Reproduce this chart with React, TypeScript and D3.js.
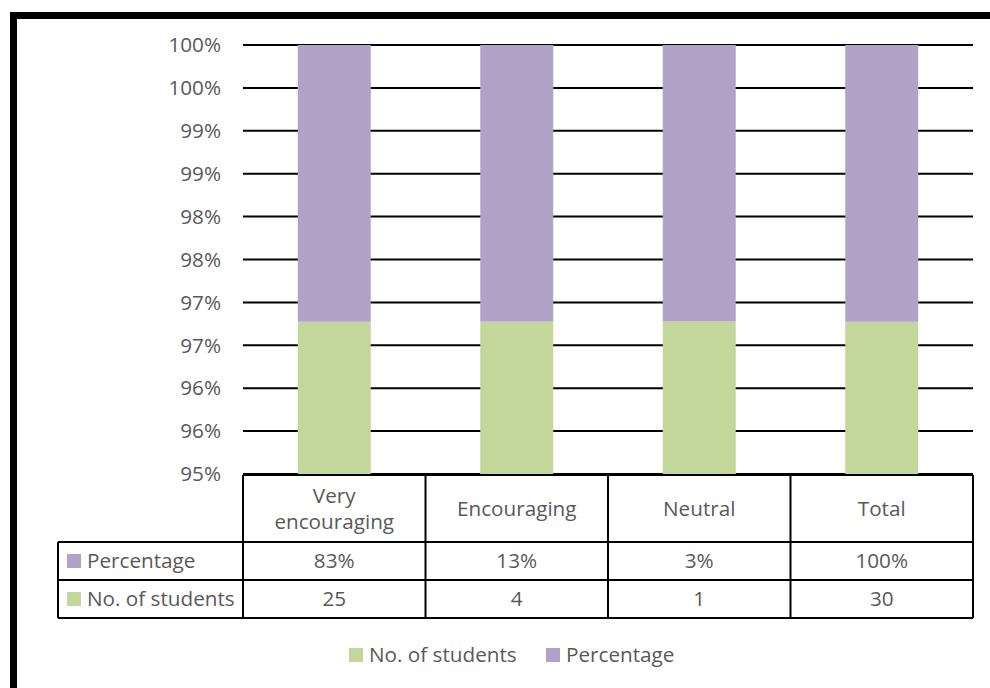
import React from 'react'
import * as d3 from 'd3'

const categories = ['Very encouraging', 'Encouraging', 'Neutral', 'Total']
const students = [25, 4, 1, 30]
const percentage = [0.8333, 0.1333, 0.0333, 1.0]
const percentLabels = ['83%', '13%', '3%', '100%']
const yTicks = [0.95, 0.955, 0.96, 0.965, 0.97, 0.975, 0.98, 0.985, 0.99, 0.995, 1.0]
const yTickLabels = ['95%', '96%', '96%', '97%', '97%', '98%', '98%', '99%', '99%', '100%', '100%']

const GREEN = '#C4D79B'
const PURPLE = '#B3A2C7'
const TEXT = '#595959'
const FONT = "'Open Sans', sans-serif"
const FS = 20.7

const W = 990
const H = 688
const left = 243
const right = 973
const top = 45
const bottom = 474

export default function App() {
  const rows = categories.map((c, i) => ({ cat: c, students: students[i], percentage: percentage[i] }))
  const stacked = d3.stack<any>().keys(['students', 'percentage']).offset(d3.stackOffsetExpand)(rows)

  const x = d3.scaleBand().domain(categories).range([left, right]).paddingInner(0.6).paddingOuter(0.3)
  const xCell = d3.scaleBand().domain(categories).range([left, right])
  const y = d3.scaleLinear().domain([0.95, 1]).range([bottom, top])
  const colors: Record<string, string> = { students: GREEN, percentage: PURPLE }

  const headTop = 475
  const row1 = 542
  const row2 = 580
  const row3 = 618
  const tableLeft = 58

  return (
    <svg width={W} height={H} style={{ position: 'absolute', left: 0, top: 0 }}>
      <rect x={0} y={0} width={W} height={H} fill="#fff" />
      <rect x={13.5} y={15.5} width={W + 20} height={H + 20} fill="none" stroke="#000" strokeWidth={7} />
      <defs>
        <clipPath id="plot">
          <rect x={left} y={top} width={right - left} height={bottom - top} />
        </clipPath>
      </defs>
      {/* gridlines */}
      {yTicks.map((t, i) => (
        <line key={i} x1={left} x2={right} y1={y(t)} y2={y(t)} stroke="#000" strokeWidth={2} />
      ))}
      {yTicks.map((t, i) => (
        <text key={i} x={221} y={y(t)} dy="0.35em" textAnchor="end" fontFamily={FONT} fontSize={FS} fill={TEXT}>
          {yTickLabels[i]}
        </text>
      ))}
      {/* bars */}
      <g clipPath="url(#plot)">
        {stacked.map(s => (
          <g key={s.key} fill={colors[s.key]}>
            {s.map((d, i) => (
              <rect key={i} x={x(categories[i])} width={x.bandwidth()}
                y={y(d[1])} height={Math.max(0, y(d[0]) - y(d[1]))} />
            ))}
          </g>
        ))}
      </g>
      {/* data table */}
      <g stroke="#000" strokeWidth={2} fill="none">
        <line x1={left} x2={right} y1={headTop} y2={headTop} />
        <line x1={tableLeft} x2={right} y1={row1} y2={row1} />
        <line x1={tableLeft} x2={right} y1={row2} y2={row2} />
        <line x1={tableLeft} x2={right} y1={row3} y2={row3} />
        <line x1={tableLeft} x2={tableLeft} y1={row1} y2={row3} />
        {categories.map((c, i) => (
          <line key={i} x1={xCell(c)} x2={xCell(c)} y1={headTop} y2={row3} />
        ))}
        <line x1={right} x2={right} y1={headTop} y2={row3} />
      </g>
      <g fontFamily={FONT} fontSize={FS} fill={TEXT} textAnchor="middle">
        {categories.map((c, i) => {
          const cx = (xCell(c) as number) + xCell.bandwidth() / 2
          const mid = (headTop + row1) / 2
          const words = c === 'Very encouraging' ? ['Very', 'encouraging'] : [c]
          return (
            <g key={i}>
              {words.map((w, j) => (
                <text key={j} x={cx} y={mid + (j - (words.length - 1) / 2) * 26} dy="0.35em">{w}</text>
              ))}
              <text x={cx} y={(row1 + row2) / 2} dy="0.35em">{percentLabels[i]}</text>
              <text x={cx} y={(row2 + row3) / 2} dy="0.35em">{students[i]}</text>
            </g>
          )
        })}
      </g>
      <g fontFamily={FONT} fontSize={FS} fill={TEXT}>
        <rect x={67} y={(row1 + row2) / 2 - 7} width={14} height={14} fill={PURPLE} />
        <text x={87} y={(row1 + row2) / 2} dy="0.35em">Percentage</text>
        <rect x={67} y={(row2 + row3) / 2 - 7} width={14} height={14} fill={GREEN} />
        <text x={87} y={(row2 + row3) / 2} dy="0.35em">No. of students</text>
      </g>
      {/* legend */}
      <g fontFamily={FONT} fontSize={FS} fill={TEXT}>
        <rect x={349} y={648} width={14} height={14} fill={GREEN} />
        <text x={369} y={655} dy="0.35em">No. of students</text>
        <rect x={546} y={648} width={14} height={14} fill={PURPLE} />
        <text x={566} y={655} dy="0.35em">Percentage</text>
      </g>
    </svg>
  )
}
